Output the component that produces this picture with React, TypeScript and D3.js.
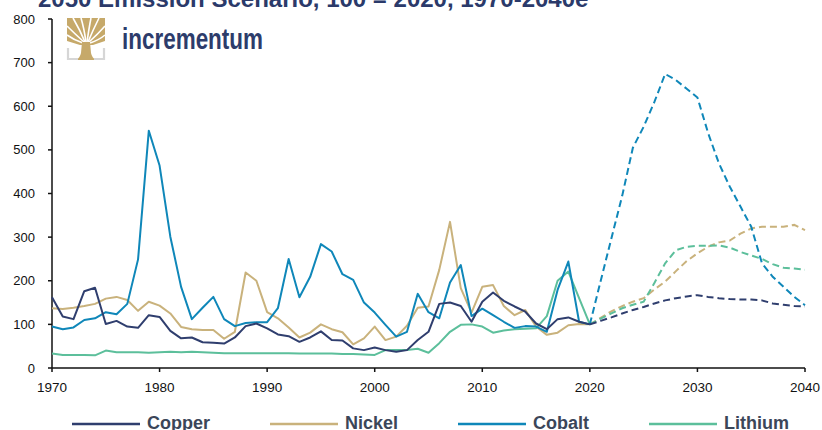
import React from 'react';
import * as d3 from 'd3';

const histYears: number[] = d3.range(1970, 2021);
const projYears: number[] = d3.range(2020, 2041);

const copperHist = [162,118,112,176,184,101,108,95,92,121, 117,85,68,70,59,58,56,70,96,102, 91,77,73,60,70,84,64,63,45,41, 47,41,37,41,64,83,147,150,142,106, 152,173,154,141,129,102,89,112,116,106, 100];
const nickelHist = [137,135,138,142,147,159,163,156,131,152, 143,125,94,89,87,87,67,83,219,200, 128,114,93,70,81,100,89,82,54,68, 95,64,72,97,138,141,225,335,183,127, 186,190,142,121,133,95,76,81,98,101, 100];
const cobaltHist = [95,89,93,110,114,128,123,147,249,544, 464,301,186,112,138,163,112,96,103,105, 105,137,250,162,209,284,267,215,202,150, 127,99,72,83,170,128,114,196,236,119, 136,121,106,92,96,95,83,179,244,106, 100];
const lithiumHist = [33,30,30,30,29,40,36,36,36,35, 36,37,36,37,36,35,34,34,34,34, 34,34,34,33,33,33,33,32,32,31, 30,41,41,41,44,35,57,83,99,100, 95,81,86,89,90,91,119,200,221,160, 100];

const copperProj = [100,108,116,125,133,140,148,155,160,164,167,163,160,158,157,157,155,148,145,142,141];
const nickelProj = [100,115,130,142,152,160,180,198,222,245,263,278,288,292,308,320,324,324,324,328,316];
const cobaltProj = [100,199,297,394,505,553,610,674,660,640,620,538,469,416,370,324,240,209,186,163,144];
const lithiumProj = [100,113,125,137,145,152,195,240,270,278,280,280,281,276,266,258,250,238,230,228,225];

const seriesNames = ['Copper', 'Nickel', 'Cobalt', 'Lithium'];
const seriesColors = ['#2f3e6e', '#c9b27c', '#0f87b9', '#5cbf9b'];
const histData = [copperHist, nickelHist, cobaltHist, lithiumHist];
const projData = [copperProj, nickelProj, cobaltProj, lithiumProj];

const yTicks = [0, 100, 200, 300, 400, 500, 600, 700, 800];
const xTicks = [1970, 1980, 1990, 2000, 2010, 2020, 2030, 2040];

const title = '2050 Emission Scenario, 100 = 2020, 1970-2040e';

export default function App() {
  const x = d3.scaleLinear().domain([1970, 2040]).range([52, 805]);
  const y = d3.scaleLinear().domain([0, 800]).range([368, 19]);
  const line = d3.line<[number, number]>().x(d => x(d[0])).y(d => y(d[1]));
  const font = 'Arial, "Liberation Sans", Helvetica, sans-serif';
  const legendLineX = [72, 270, 458, 649];
  const drawOrder = [1, 3, 2, 0];
  const gold = '#c6a96a';

  // logo white branch gaps
  const gaps = [
    'M85,42 Q80,30 73,18', 'M86,42 Q84,28 81,18', 'M87,42 Q89,28 91,18', 'M88,42 Q93,30 99,18',
    'M84,42 Q75,34 67,26', 'M89,42 Q98,34 105,26', 'M83,43 Q74,40 67,35', 'M90,43 Q99,40 105,35',
  ];

  return (
    <svg width={822} height={430} style={{ position: 'absolute', left: 0, top: 0, background: '#fff' }} fontFamily={font}>
      <text x={38} y={7} fontSize={24} fontWeight="bold" fill="#2b3a6a">{title}</text>

      {/* logo */}
      <g>
        <path d="M67,18 L105,18 L105,41 L93,45 L80,45 L67,41 Z" fill={gold} />
        {gaps.map((g, i) => (
          <path key={i} d={g} fill="none" stroke="#fff" strokeWidth={1.6} />
        ))}
        <path d="M82,42 L90,42 L91,53 Q92,58 96,60 L76,60 Q80,58 81,53 Z" fill={gold} />
        <path d="M68,48 L68,59 L78,59" fill="none" stroke="#d6d6d6" strokeWidth={2.2} />
        <path d="M104,48 L104,59 L94,59" fill="none" stroke="#d6d6d6" strokeWidth={2.2} />
        <text x={122} y={49} fontSize={29} fontWeight="bold" fill="#2d3c6b" textLength={141} lengthAdjust="spacingAndGlyphs">incrementum</text>
      </g>

      {/* axes */}
      <line x1={52} y1={y(800)} x2={52} y2={y(0)} stroke="#111" strokeWidth={1.5} />
      {yTicks.map(t => (
        <g key={t}>
          <line x1={48} x2={52} y1={y(t)} y2={y(t)} stroke="#111" strokeWidth={1.5} />
          <text x={35} y={y(t)} dy="0.35em" textAnchor="end" fontSize={13} fill="#111">{t}</text>
        </g>
      ))}
      <line x1={x(1970)} y1={368} x2={x(2040)} y2={368} stroke="#111" strokeWidth={1.5} />
      {xTicks.map(t => (
        <g key={t}>
          <line x1={x(t)} x2={x(t)} y1={368} y2={372} stroke="#111" strokeWidth={1.5} />
          <text x={x(t)} y={392} textAnchor="middle" fontSize={13.5} fill="#111">{t}</text>
        </g>
      ))}

      {/* series */}
      {drawOrder.map(i => (
        <g key={seriesNames[i]}>
          <path d={line(histYears.map((yr, k) => [yr, histData[i][k]] as [number, number])) || ''}
            fill="none" stroke={seriesColors[i]} strokeWidth={2} strokeLinejoin="round" />
          <path d={line(projYears.map((yr, k) => [yr, projData[i][k]] as [number, number])) || ''}
            fill="none" stroke={seriesColors[i]} strokeWidth={2} strokeDasharray="7,4" />
        </g>
      ))}

      {/* legend */}
      {seriesNames.map((n, i) => (
        <g key={n}>
          <line x1={legendLineX[i]} x2={legendLineX[i] + 68} y1={424} y2={424} stroke={seriesColors[i]} strokeWidth={2.5} />
          <text x={legendLineX[i] + 75} y={429} fontSize={18} fontWeight="bold" fill="#3b4659">{n}</text>
        </g>
      ))}
    </svg>
  );
}
